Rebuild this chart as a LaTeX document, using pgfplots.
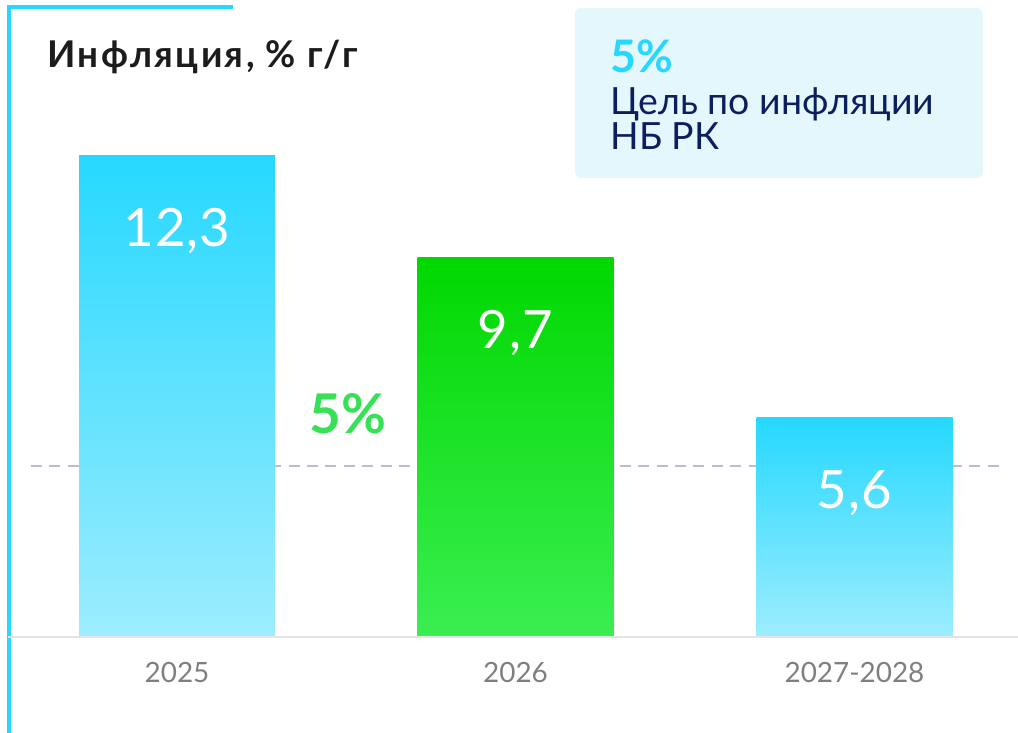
\documentclass[border=0pt]{standalone}
\usepackage{fontspec}
\setmainfont{Lato}
\usepackage{pgfplots}
\pgfplotsset{compat=1.18}

\definecolor{cyanTop}{HTML}{26D8FF}
\definecolor{cyanBot}{HTML}{9DEDFE}
\definecolor{greenTop}{HTML}{00D800}
\definecolor{greenBot}{HTML}{3BEE52}
\definecolor{dashgray}{HTML}{B9BDD1}
\definecolor{basegray}{HTML}{E3E3E6}
\definecolor{tickgray}{HTML}{7F7F7F}
\definecolor{titleblack}{HTML}{1C1C1C}
\definecolor{navy}{HTML}{0B1F5E}
\definecolor{boxfill}{HTML}{E4F7FD}
\definecolor{labelgreen}{HTML}{38E055}

\begin{document}
\begin{tikzpicture}
\begin{axis}[
    scale only axis,
    width=509bp, height=366.5bp,
    xmin=0, xmax=1018,
    ymin=-2.468, ymax=16.279,
    axis line style={draw=none},
    major tick length=0pt,
    ytick=\empty,
    xtick={177,515.5,854.5},
    xticklabels={2025,2026,2027-2028},
    xticklabel style={anchor=base, yshift=25.5bp, text=tickgray,
        font=\fontsize{14}{16}\selectfont, inner sep=0pt},
    ybar, bar width=196,
    clip=false,
    nodes near coords,
    nodes near coords style={anchor=base, yshift=-45.5bp, text=white,
        font=\fontsize{26.5}{30}\selectfont\addfontfeatures{LetterSpace=2}, inner sep=0pt},
    /pgf/number format/fixed,
    /pgf/number format/precision=1,
    /pgf/number format/fixed zerofill,
    /pgf/number format/use comma,
    /pgf/number format/assume math mode=true,
]
% target line, behind the bars
\draw[dashgray, line width=1.25bp, dash pattern=on 5.5bp off 3.7bp]
    (axis cs:31,4.36) -- (axis cs:1004,4.36);

\addplot[bar shift=0pt, draw=none, top color=cyanTop, bottom color=cyanBot]
    coordinates {(177,12.3)};
\addplot[bar shift=0pt, draw=none, top color=greenTop, bottom color=greenBot]
    coordinates {(515.5,9.7)};
\addplot[bar shift=0pt, draw=none, top color=cyanTop, bottom color=cyanBot]
    coordinates {(854.5,5.6)};

\coordinate (TL) at (rel axis cs:0,1);
\coordinate (BR) at (rel axis cs:1,0);
\end{axis}

\pgfresetboundingbox
\path[use as bounding box] (TL) rectangle (BR);

% decorations, in pixel units from the top left corner
\begin{scope}[shift={(TL)}, x=0.5bp, y=-0.5bp]
  \fill[boxfill, rounded corners=3bp] (575,8) rectangle (983,178);
  \draw[cyanTop, line width=2bp] (9,733) -- (9,7) -- (233,7);
  \draw[basegray, line width=1bp] (8,637) -- (1018,637);

  \node[anchor=base west, inner sep=0pt, text=titleblack,
        font=\bfseries\fontsize{18.5}{21}\selectfont\addfontfeatures{LetterSpace=6.5}]
        at (47,68) {Инфляция, \% г/г};

  \node[anchor=base west, inner sep=0pt, text=cyanTop,
        font=\bfseries\fontsize{22.5}{26}\selectfont] at (610,73) {5\%};
  \node[anchor=base west, inner sep=0pt, text=navy,
        font=\fontsize{18.8}{22}\selectfont] at (610,115) {Цель по инфляции};
  \node[anchor=base west, inner sep=0pt, text=navy,
        font=\fontsize{18.8}{22}\selectfont] at (610,150) {НБ РК};

  \node[anchor=base, inner sep=0pt, text=labelgreen,
        font=\bfseries\fontsize{27.5}{31}\selectfont] at (348,434) {5\%};
\end{scope}
\end{tikzpicture}
\end{document}
